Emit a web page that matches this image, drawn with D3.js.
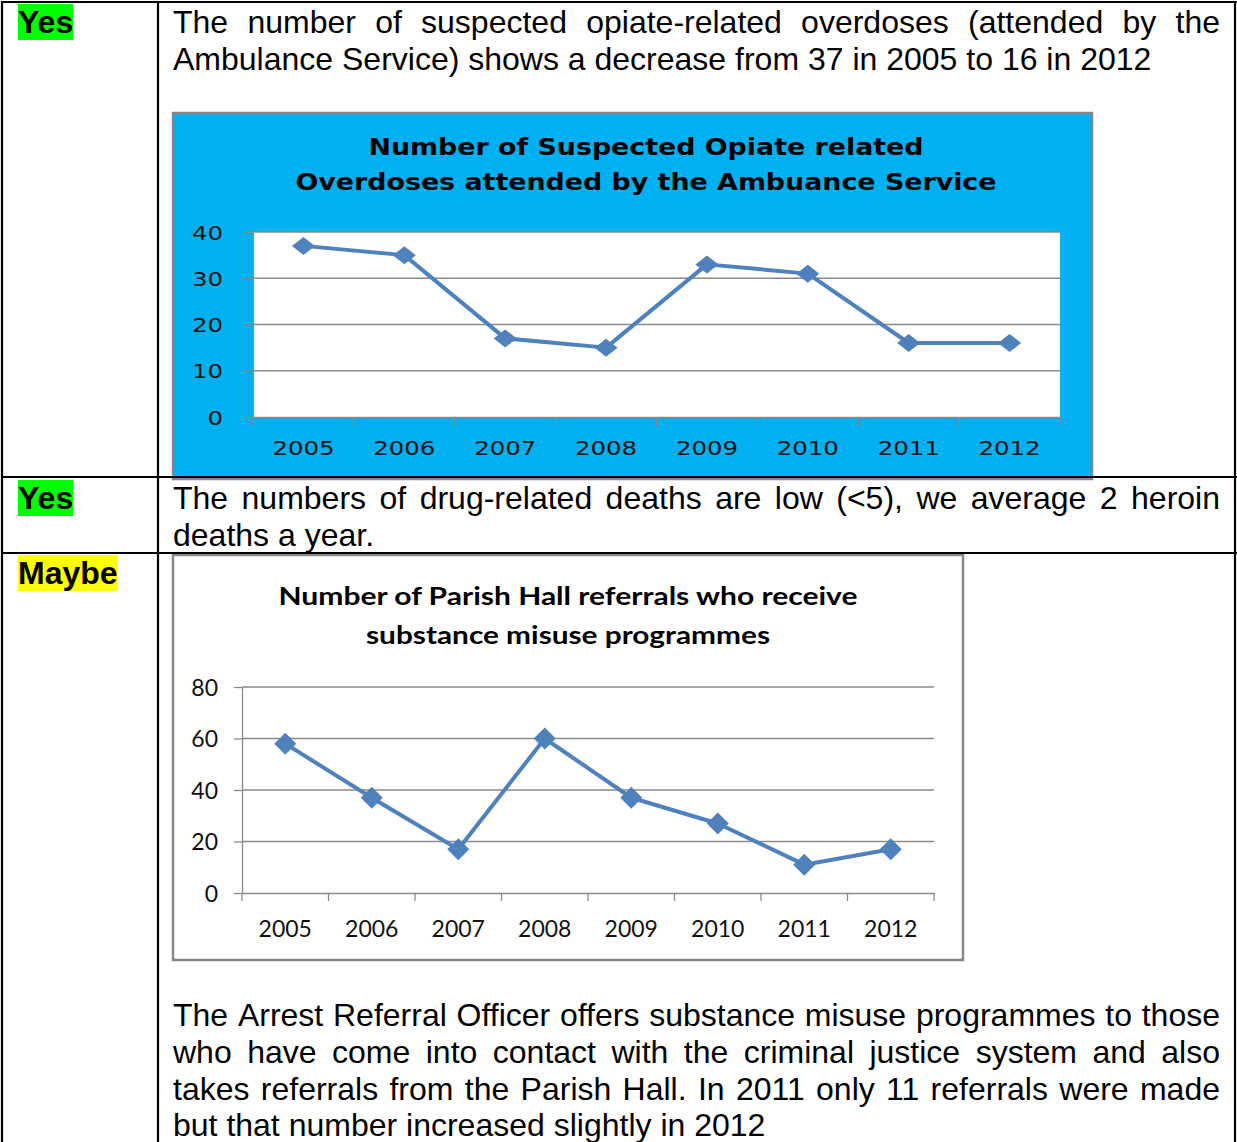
<!DOCTYPE html>
<html>
<head>
<meta charset="utf-8">
<script src="https://cdn.jsdelivr.net/npm/d3@7"></script>
<style>
  html, body { margin: 0; padding: 0; background: #fff; }
  svg { display: block; }
</style>
</head>
<body>
<svg id="page" width="1237" height="1142"></svg>
<script>
// ---- data ----
const years = ["2005", "2006", "2007", "2008", "2009", "2010", "2011", "2012"];
const overdoses = [37, 35, 17, 15, 33, 31, 16, 16];
const referrals = [58, 37, 17, 60, 37, 27, 11, 17];
const overdoseTicks = [0, 10, 20, 30, 40];
const referralTicks = [0, 20, 40, 60, 80];
const overdoseTitle = ["Number of Suspected Opiate related", "Overdoses attended by the Ambuance Service"];
const referralTitle = ["Number of Parish Hall referrals who receive", "substance misuse programmes"];
const rowLabels = ["Yes", "Yes", "Maybe"];
const row1Text = [
  "The number of suspected opiate-related overdoses (attended by the",
  "Ambulance Service) shows a decrease from 37 in 2005 to 16 in 2012"
];
const row2Text = [
  "The numbers of drug-related deaths are low (<5), we average 2 heroin",
  "deaths a year."
];
const row3Text = [
  "The Arrest Referral Officer offers substance misuse programmes to those",
  "who have come into contact with the criminal justice system and also",
  "takes referrals from the Parish Hall. In 2011 only 11 referrals were made",
  "but that number increased slightly in 2012"
];

const svg = d3.select("#page");
const bodyFont = "'Liberation Sans', Arial, sans-serif";
const lineColor = "#4f81bd";
const gridColor = "#8a8a8a";

// temporary text used for measuring, removed at the end
const meas = svg.append("text").attr("x", 10).attr("y", 10).attr("opacity", 0);
function measure(str, font, size, weight) {
  meas.attr("font-family", font).attr("font-size", size).attr("font-weight", weight || "normal").text(str);
  return meas.node().getComputedTextLength();
}

// justified paragraph, last line left aligned
function paragraph(lines, x0, x1, y0, lh) {
  const g = svg.append("g").attr("font-family", bodyFont).attr("font-size", 32).attr("fill", "#000");
  lines.forEach((line, i) => {
    const y = y0 + i * lh;
    if (i === lines.length - 1) {
      g.append("text").attr("x", x0).attr("y", y).text(line);
      return;
    }
    const words = line.split(" ");
    const widths = words.map(w => measure(w, bodyFont, 32));
    const gap = (x1 - x0 - d3.sum(widths)) / (words.length - 1);
    let x = x0;
    const t = g.append("text").attr("y", y);
    words.forEach((w, j) => {
      t.append("tspan").attr("x", x).text(w);
      x += widths[j] + gap;
    });
  });
}

function label(str, x, y, bg) {
  const w = measure(str, bodyFont, 32, "bold");
  svg.append("rect").attr("x", x).attr("y", y - 29).attr("width", w).attr("height", 36).attr("fill", bg);
  svg.append("text").attr("x", x).attr("y", y)
    .attr("font-family", bodyFont).attr("font-size", 32).attr("font-weight", "bold").text(str);
}

function diamond(w, h) {
  return `M0,${-h}L${w},0L0,${h}L${-w},0Z`;
}

function drawChart(cfg) {
  const g = svg.append("g");
  g.append("rect")
    .attr("x", cfg.box[0]).attr("y", cfg.box[1]).attr("width", cfg.box[2]).attr("height", cfg.box[3])
    .attr("fill", cfg.bg).attr("stroke", "#878787").attr("stroke-width", 2.5);

  cfg.title.forEach((t, i) => {
    g.append("text").attr("x", cfg.titleX).attr("y", cfg.titleY[i])
      .attr("text-anchor", "middle").attr("font-family", cfg.titleFont).attr("font-size", cfg.titleSize)
      .attr("font-weight", "bold").attr("fill", "#000")
      .attr("textLength", cfg.titleW[i]).attr("lengthAdjust", "spacingAndGlyphs")
      .text(t);
  });

  const x = d3.scaleBand().domain(years).range([cfg.left, cfg.right]);
  const y = d3.scaleLinear().domain([0, d3.max(cfg.ticks)]).range([cfg.bottom, cfg.top]);

  if (cfg.plotBg) {
    g.append("rect").attr("x", cfg.left).attr("y", cfg.top)
      .attr("width", cfg.right - cfg.left).attr("height", cfg.bottom - cfg.top).attr("fill", cfg.plotBg);
  }

  g.append("g").selectAll("line").data(cfg.ticks.filter(d => d > 0)).join("line")
    .attr("x1", cfg.left).attr("x2", cfg.right)
    .attr("y1", d => y(d)).attr("y2", d => y(d))
    .attr("stroke", gridColor).attr("stroke-width", 1.3);

  const ya = g.append("g").attr("transform", `translate(${cfg.left},0)`)
    .call(d3.axisLeft(y).tickValues(cfg.ticks).tickSize(cfg.tickLen).tickSizeOuter(0).tickPadding(cfg.yPad));
  ya.selectAll("path, line").attr("stroke", gridColor).attr("stroke-width", 1.3);
  ya.attr("font-family", cfg.font).attr("font-size", cfg.fontSize);
  ya.selectAll("text").attr("fill", "#111").attr("dy", "0.36em");

  const xa = g.append("g").attr("transform", `translate(0,${cfg.bottom})`)
    .call(d3.axisBottom(x).tickSize(0).tickSizeOuter(0));
  xa.select(".domain").attr("stroke", gridColor).attr("stroke-width", 1.3);
  xa.attr("font-family", cfg.font).attr("font-size", cfg.fontSize);
  xa.selectAll("text").attr("fill", "#111").attr("dy", null).attr("y", cfg.xLabelY);

  // category boundary ticks
  const bounds = years.map(d => x(d)).concat([cfg.right]);
  g.append("g").selectAll("line").data(bounds).join("line")
    .attr("x1", d => d).attr("x2", d => d)
    .attr("y1", cfg.bottom).attr("y2", cfg.bottom + cfg.tickLen)
    .attr("stroke", gridColor).attr("stroke-width", 1.3);

  if (cfg.stretch) {
    g.selectAll(".tick text").each(function () {
      const n = this.getComputedTextLength();
      d3.select(this).attr("textLength", n * cfg.stretch).attr("lengthAdjust", "spacingAndGlyphs");
    });
  }

  const cx = d => x(d) + x.bandwidth() / 2;
  g.append("path")
    .datum(cfg.values)
    .attr("fill", "none").attr("stroke", lineColor).attr("stroke-width", 4).attr("stroke-linejoin", "round")
    .attr("d", d3.line().x((d, i) => cx(years[i])).y(d => y(d)));

  g.append("g").selectAll("path").data(cfg.values).join("path")
    .attr("transform", (d, i) => `translate(${cx(years[i])},${y(d)})`)
    .attr("d", diamond(cfg.marker[0], cfg.marker[1]))
    .attr("fill", lineColor);
}

// ---- page ----
paragraph(row1Text, 173, 1220, 33, 36.8);
label(rowLabels[0], 18, 33, "#00ff00");

drawChart({
  box: [173, 113, 919, 366], bg: "#00b0f0", plotBg: "#fff",
  title: overdoseTitle, titleX: 646, titleY: [155, 190], titleW: [555, 701],
  titleFont: "'DejaVu Sans', Verdana, sans-serif", titleSize: 23,
  left: 253, right: 1060, top: 232, bottom: 417, ticks: overdoseTicks, values: overdoses,
  tickLen: 9, yPad: 21, xLabelY: 38, font: "'DejaVu Sans', Verdana, sans-serif", fontSize: 20, stretch: 1.22,
  marker: [11.5, 9]
});

paragraph(row2Text, 173, 1220, 509, 36.8);
label(rowLabels[1], 18, 509, "#00ff00");

drawChart({
  box: [173, 555, 790, 405], bg: "#fff", plotBg: null,
  title: referralTitle, titleX: 568, titleY: [605, 644], titleW: [579, 404],
  titleFont: "Lato, 'Open Sans', sans-serif", titleSize: 24,
  left: 242, right: 934, top: 687, bottom: 893, ticks: referralTicks, values: referrals,
  tickLen: 8, yPad: 16, xLabelY: 44, font: "Lato, 'Open Sans', sans-serif", fontSize: 23, stretch: null,
  marker: [11, 11]
});
label(rowLabels[2], 18, 584, "#ffff00");

paragraph(row3Text, 173, 1220, 1026, 36.8);

meas.remove();

// table rules
const hRules = [2, 477, 553];
const vRules = [2, 158, 1235];
svg.append("g").selectAll("line").data(hRules).join("line")
  .attr("x1", 1).attr("x2", 1237).attr("y1", d => d).attr("y2", d => d)
  .attr("stroke", "#000").attr("stroke-width", 2.2);
svg.append("g").selectAll("line").data(vRules).join("line")
  .attr("x1", d => d).attr("x2", d => d).attr("y1", 1).attr("y2", 1142)
  .attr("stroke", "#000").attr("stroke-width", 2.2);
</script>
</body>
</html>
